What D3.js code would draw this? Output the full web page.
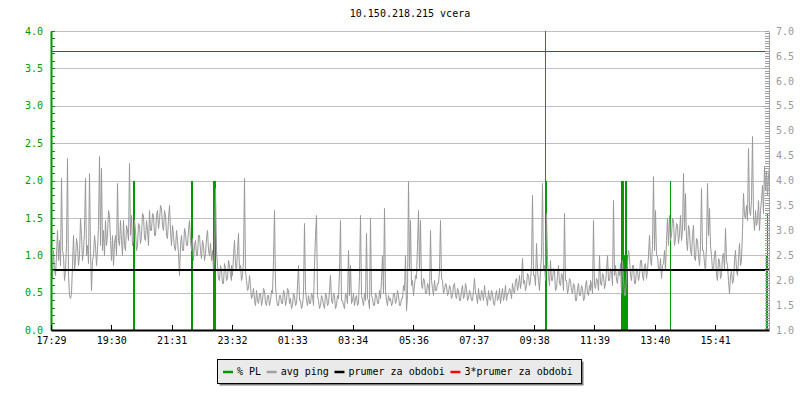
<!DOCTYPE html>
<html><head><meta charset="utf-8">
<script src="https://cdn.jsdelivr.net/npm/d3@7"></script>
<style>
html,body{margin:0;padding:0;background:#fff;}
svg text{font-family:"DejaVu Sans Mono",monospace;font-size:10px;}
</style></head><body><svg id="c" width="800" height="400"></svg>
<script>
// ---------------- data ----------------
const chartTitle = "10.150.218.215 vcera";
const startTime = "17:29";
const timeTickLabels = ["17:29","19:30","21:31","23:32","01:33","03:34","05:36","07:37","09:38","11:39","13:40","15:41"];
const leftTickLabels = ["0.0","0.5","1.0","1.5","2.0","2.5","3.0","3.5","4.0"];
const rightTickLabels = ["1.0","1.5","2.0","2.5","3.0","3.5","4.0","4.5","5.0","5.5","6.0","6.5","7.0"];
const totalMinutes = 1440;
const pingStepMinutes = 2;
const pingValues = [
 2.3,2.05,2.6,2.2,2.1,2.5,3.0,2.4,2.8,2.3, 4.05,2.6,2.5,2.0,2.2,2.7,4.45,2.1,1.7,1.65,
 1.75,2.3,2.9,2.2,2.4,2.85,2.7,2.3,2.5,3.25, 2.9,2.4,2.6,3.0,4.05,2.5,2.7,2.35,4.15,2.6,
 1.8,2.4,2.5,2.9,2.7,2.3,2.6,3.1,4.5,2.7, 4.25,2.6,3.0,2.5,3.2,2.7,2.9,3.4,3.3,2.8,
 2.4,2.9,2.3,2.75,2.9,2.5,3.95,2.8,2.7,3.2, 2.8,2.5,3.2,2.7,2.6,3.1,3.0,2.8,4.35,2.9,
 3.3,2.7,2.8,3.2,3.0,2.6,2.7,3.15,3.1,2.75, 2.9,3.35,3.3,2.85,2.8,3.2,3.0,2.7,3.4,3.0,
 3.0,3.35,3.3,2.9,2.9,3.3,3.4,3.05,3.2,3.5, 3.45,3.1,3.0,3.4,3.3,2.9,2.85,3.25,3.5,3.0,
 2.7,3.1,2.9,2.65,2.6,3.0,2.8,2.55,2.1,2.7, 2.9,2.6,2.6,3.05,2.95,2.7,2.7,3.0,3.2,2.8,
 2.6,2.85,2.4,2.7,2.8,2.5,2.5,2.9,2.9,2.6, 2.45,2.8,2.7,2.4,2.55,2.85,3.0,2.6,2.5,2.75,
 2.4,2.6,2.2,2.5,3.85,2.6,2.3,2.05,2.0,2.3, 2.2,1.95,1.95,2.35,2.25,2.0,2.05,2.4,2.3,2.1,
 2.0,2.3,2.1,2.5,2.8,2.3,2.2,2.6,2.95,2.2, 2.3,2.0,2.1,2.4,4.05,2.2,2.0,1.8,1.85,2.1,
 1.9,1.65,1.7,1.85,1.6,1.5,1.8,1.6,1.55,1.75, 1.75,1.5,1.6,1.85,1.8,1.55,1.5,1.7,1.7,1.5,
 1.6,1.8,1.75,2.4,3.4,1.9,1.65,1.5,1.5,1.7, 1.7,1.55,1.55,1.8,1.75,1.5,1.6,1.85,1.8,1.55,
 1.65,1.45,1.5,1.75,1.7,1.5,1.55,1.9,2.3,1.6, 1.6,1.45,1.5,1.75,3.15,1.8,1.6,1.5,1.7,1.55,
 1.55,1.75,1.7,1.5,2.3,2.9,3.3,1.7,1.6,1.45, 1.5,1.7,1.65,1.5,1.45,1.75,1.7,1.5,1.55,1.8,
 2.1,1.6,1.55,1.75,1.7,1.45,1.5,1.7,1.65,2.2, 3.2,1.6,1.6,1.5,1.45,1.75,1.7,1.55,2.6,1.7,
 2.3,1.55,1.6,1.75,1.5,1.65,1.7,1.5,1.55,2.1, 3.3,1.7,1.6,1.5,1.75,1.6,2.95,1.65,1.6,1.45,
 3.25,1.7,1.65,1.5,1.5,1.75,1.7,1.55,1.55,1.8, 1.65,2.0,2.5,1.75,3.45,1.8,1.6,1.5,1.7,1.6,
 1.65,1.5,1.55,1.75,1.75,1.55,1.6,1.8,1.7,1.5, 1.5,1.65,1.65,1.9,1.8,2.5,1.4,1.7,4.0,2.2,
 3.2,1.9,2.0,1.7,1.9,2.1,2.05,2.7,3.4,2.2, 3.2,1.9,1.85,2.05,2.0,1.75,1.75,1.95,1.9,1.7,
 3.0,2.0,1.85,1.7,2.0,1.8,1.8,1.95,1.95,2.2, 3.2,2.05,2.0,1.75,1.8,1.95,1.9,1.7,1.75,1.9,
 1.85,1.65,1.7,1.9,1.95,1.7,1.65,1.85,1.8,1.6, 1.6,1.8,1.9,1.65,1.7,1.95,1.85,1.6,1.65,1.8,
 1.75,1.6,1.6,1.8,2.05,1.75,1.7,1.55,1.85,1.65, 1.6,1.8,1.75,1.6,1.9,1.7,1.65,1.5,1.8,1.65,
 1.6,1.8,1.75,1.55,1.5,1.7,1.8,1.6,1.65,1.85, 1.55,1.7,1.85,1.6,1.7,1.9,1.6,1.75,1.75,1.85,
 1.8,1.65,1.95,1.8,1.75,2.0,2.05,1.8,1.9,2.1, 1.85,2.0,2.45,1.95,2.0,1.8,1.9,2.15,2.1,1.9,
 2.0,2.3,3.7,2.1,2.1,1.9,2.75,2.2,2.0,1.8, 2.2,2.5,3.95,2.2,2.3,2.0,3.35,2.4,2.1,1.9,
 2.4,2.0,2.0,2.25,2.2,1.8,1.85,2.1,2.3,1.95, 1.9,2.15,2.1,1.8,3.35,2.0,2.0,1.75,1.85,2.05,
 2.0,1.8,1.75,1.95,1.9,1.6,1.6,1.85,1.95,1.7, 1.7,1.9,1.85,1.6,1.65,1.9,2.0,1.75,1.7,1.9,
 1.8,2.0,1.95,1.75,3.2,1.9,1.85,2.05,2.0,1.8, 2.5,1.95,1.9,2.15,2.1,1.85,1.95,2.2,2.5,2.0,
 2.0,2.25,2.2,1.9,3.6,2.1,2.3,2.0,1.95,2.2, 2.1,2.35,1.75,2.4,2.05,1.7,1.7,2.1,2.35,2.6,
 2.45,2.1,2.0,2.3,2.3,1.95,1.95,2.25,2.2,2.0, 2.1,2.4,2.4,2.1,2.0,2.3,2.35,2.05,2.2,2.5,
 2.9,2.4,2.3,2.7,4.1,2.6,3.4,2.5,2.5,2.2, 2.2,2.45,2.05,2.3,2.35,2.6,2.2,2.8,3.25,2.7,
 3.3,2.8,2.9,3.25,3.2,2.7,2.85,3.15,3.1,2.75, 2.95,3.3,2.8,3.0,4.15,3.0,3.75,2.8,2.6,3.1,
 3.0,2.6,2.5,2.9,3.1,2.45,2.4,2.85,2.8,2.5, 2.3,2.7,3.85,2.6,2.6,2.35,2.2,2.7,3.95,2.9,
 3.45,2.7,2.5,2.2,2.2,2.55,2.6,2.1,2.0,2.45, 2.4,2.05,2.1,2.5,2.55,2.2,3.05,2.4,2.3,2.0,
 1.75,2.1,2.2,1.95,2.0,2.4,2.6,2.2,2.1,2.45, 2.75,2.3,2.4,3.0,3.75,3.3,3.25,3.5,3.2,4.65,
 3.4,3.3,3.6,4.9,3.3,3.0,3.4,3.1,3.2,3.6, 3.0,3.4,3.6,3.9,3.35,4.3,3.8,4.2,3.7,4.1, 4.3
];
// packet loss events (minutes from start) and value in %
const plStart  = [164, 281, 325, 990, 992, 1144, 1150, 1152, 1156, 1241, 1433, 1436];
const plEnd    = [168, 284, 331, 992, 995, 1150, 1152, 1156, 1158, 1244, 1436, 1438];
const plValues = [2.0, 2.0, 2.0, 5.0, 2.0, 2.0,  1.0,  2.0,  1.0,  2.0,  1.0,  1.55];
const avgPing = 2.2;
const avgMultiplier = 3;
const legendLabels = ["% PL","avg ping","prumer za obdobi","3*prumer za obdobi"];
const legendColors = ["#009900","#a0a0a0","#000000","red"];

// ---------------- layout ----------------
const X0 = 51, X1 = 769, YT = 31, YB = 330;
const GREEN = "#009900", GRAY = "#999999", GRID = "#c0c0c0";

const svg = d3.select("#c");
const toMin = s => { const [h,m] = s.split(":").map(Number); return h*60+m; };
const tickMinutes = timeTickLabels.map(l => ((toMin(l) - toMin(startTime)) + 1440) % 1440);

const xS = d3.scaleLinear().domain([0, totalMinutes]).range([X0, X1]);
const yL = d3.scaleLinear().domain([0, 4]).range([YB, YT]).clamp(true);
const yR = d3.scaleLinear().domain([1, 7]).range([YB, YT]);

const leftVals = leftTickLabels.map(Number);
const rightVals = rightTickLabels.map(Number);

// title
svg.append("text").attr("x", (X0+X1)/2).attr("y", 17).attr("text-anchor","middle")
  .attr("fill","#000").text(chartTitle);

// grid
const grid = svg.append("g").attr("transform",`translate(${X0},0)`)
  .call(d3.axisLeft(yL).tickValues(leftVals.filter(v=>v>0)).tickSize(-(X1-X0-3)).tickFormat(""));
grid.select(".domain").remove();
grid.selectAll("line").attr("stroke",GRID).attr("shape-rendering","crispEdges");

// packet loss bars
svg.append("g").selectAll("rect").data(plValues).join("rect")
  .attr("x",(d,i)=>xS(plStart[i]))
  .attr("width",(d,i)=>xS(plEnd[i])-xS(plStart[i]))
  .attr("y",d=>yL(d)).attr("height",d=>YB-yL(d))
  .attr("fill",GREEN).attr("shape-rendering","crispEdges");

// ping line
const line = d3.line()
  .x((d,i)=>Math.round(xS(i*pingStepMinutes))+0.5)
  .y(d=>Math.round(yR(d))+0.5);
svg.append("path").datum(pingValues).attr("d",line)
  .attr("fill","none").attr("stroke",GRAY).attr("stroke-width",1);

// average and 3*average
svg.append("line").attr("x1",X0).attr("x2",X1).attr("y1",yR(avgPing)).attr("y2",yR(avgPing))
  .attr("stroke","#000").attr("stroke-width",2).attr("shape-rendering","crispEdges");
svg.append("line").attr("x1",X0).attr("x2",X1-3)
  .attr("y1",Math.round(yR(avgPing*avgMultiplier))+0.5).attr("y2",Math.round(yR(avgPing*avgMultiplier))+0.5)
  .attr("stroke","red").attr("stroke-width",1.2);

// left axis (ticks inward)
const minorL = d3.range(0, 40.5, 1).map(v=>v/10);
const lAx = svg.append("g").attr("transform",`translate(${X0},0)`)
  .call(d3.axisRight(yL).tickValues(minorL).tickSize(4).tickSizeOuter(0).tickFormat(""));
lAx.select(".domain").attr("stroke",GREEN).attr("stroke-width",2);
lAx.selectAll("line").attr("stroke",GREEN).attr("shape-rendering","crispEdges");
const lLab = svg.append("g").attr("transform",`translate(${X0},0)`)
  .call(d3.axisLeft(yL).tickValues(leftVals).tickSize(0).tickPadding(8).tickFormat((d,i)=>leftTickLabels[i]));
lLab.select(".domain").remove();
lLab.selectAll("text").attr("fill",GREEN).style("font-family","DejaVu Sans Mono").style("font-size","10px");

// right axis
const minorR = d3.range(20, 140.5, 1).map(v=>v/20);
const rAx = svg.append("g").attr("transform",`translate(${X1},0)`)
  .call(d3.axisLeft(yR).tickValues(minorR).tickSize(4).tickSizeOuter(0).tickFormat(""));
rAx.select(".domain").attr("stroke","#a0a0a0");
rAx.selectAll("line").attr("stroke","#a0a0a0").attr("shape-rendering","crispEdges");
const rLab = svg.append("g").attr("transform",`translate(${X1},0)`)
  .call(d3.axisRight(yR).tickValues(rightVals).tickSize(0).tickPadding(7).tickFormat((d,i)=>rightTickLabels[i]));
rLab.select(".domain").remove();
rLab.selectAll("text").attr("fill","#999999").style("font-family","DejaVu Sans Mono").style("font-size","10px");

// bottom axis
const bAx = svg.append("g").attr("transform",`translate(0,${YB})`)
  .call(d3.axisTop(xS).tickValues(tickMinutes).tickSize(5).tickSizeOuter(0).tickFormat(""));
bAx.select(".domain").attr("stroke","#000").attr("stroke-width",2);
bAx.selectAll("line").attr("stroke","#000").attr("shape-rendering","crispEdges");
const bLab = svg.append("g").attr("transform",`translate(0,${YB})`)
  .call(d3.axisBottom(xS).tickValues(tickMinutes).tickSize(0).tickPadding(7).tickFormat((d,i)=>timeTickLabels[i]));
bLab.select(".domain").remove();
bLab.selectAll("text").attr("fill","#000").style("font-family","DejaVu Sans Mono").style("font-size","10px");

// legend
const lg = svg.append("g");
const LX = 217, LY = 359, LW = 364, LH = 24;
lg.append("rect").attr("x",LX+2.5).attr("y",LY+2.5).attr("width",LW).attr("height",LH).attr("fill","#7a7a7a");
lg.append("rect").attr("x",LX+0.5).attr("y",LY+0.5).attr("width",LW).attr("height",LH)
  .attr("fill","#eaeaea").attr("stroke","#000").attr("stroke-width",1);
let cx = 223;
legendLabels.forEach((lab,i)=>{
  lg.append("line").attr("x1",cx).attr("x2",cx+10).attr("y1",372).attr("y2",372)
    .attr("stroke",legendColors[i]).attr("stroke-width",2.5);
  const t = lg.append("text").attr("x",cx+14).attr("y",374.5).attr("fill","#000").text(lab);
  cx = cx + 14 + t.node().getComputedTextLength() + 5.6;
});
</script></body></html>
